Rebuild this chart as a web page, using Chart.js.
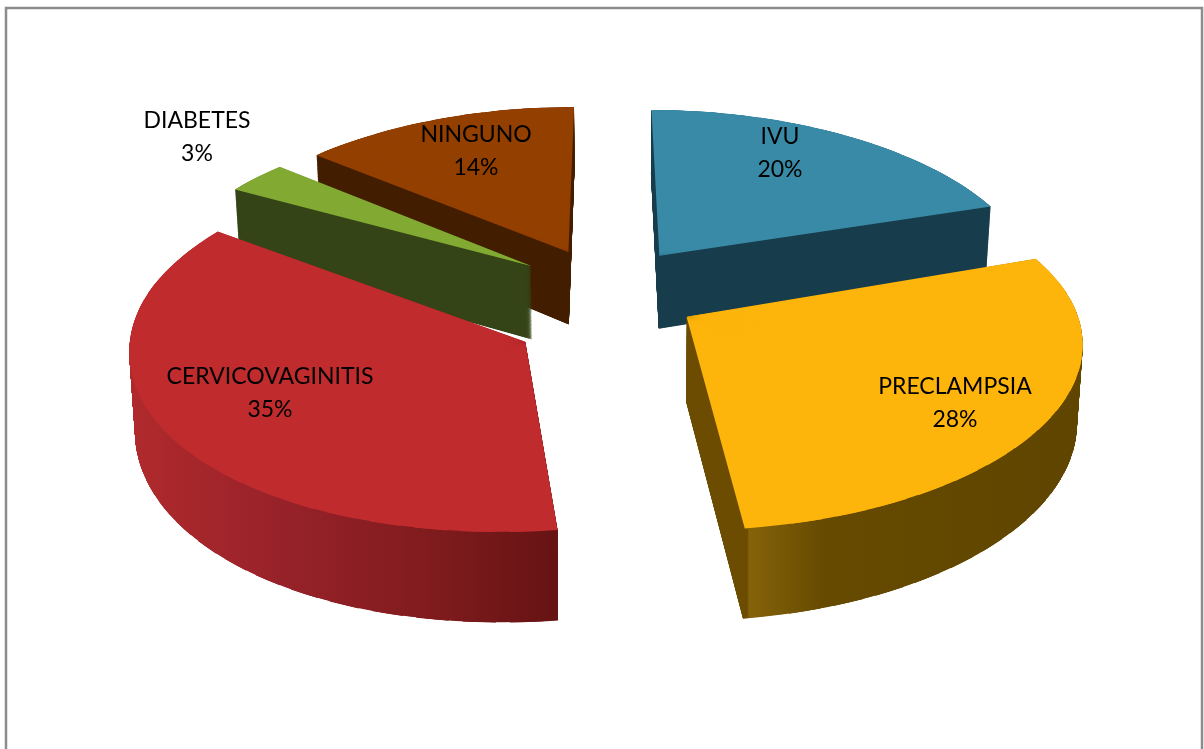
<!DOCTYPE html>
<html><head><meta charset="utf-8">
<style>html,body{margin:0;padding:0;background:#fff;overflow:hidden}canvas{display:block}</style>
<script src="https://cdn.jsdelivr.net/npm/chart.js@4"></script>
</head><body><canvas id="c" width="1204" height="749"></canvas>
<script>
const categories = ["IVU","PRECLAMPSIA","CERVICOVAGINITIS","DIABETES","NINGUNO"];
const values = [20,28,35,3,14];
const percentLabels = ["20%","28%","35%","3%","14%"];
const topColors = ["#388aa6","#fdb40b","#c02b2e","#82aa33","#933f00"];
const wallStops = [
  [[0,"#173c4b"],[1,"#173c4b"]],
  [[0,"#6b4c00"],[0.155,"#6b4c00"],[0.16,"#84630a"],[0.35,"#664a00"],[1,"#5f4500"]],
  [[0,"#b02a2c"],[0.35,"#98222a"],[0.75,"#7c1a1c"],[1,"#661314"]],
  [[0,"#344416"],[1,"#344416"]],
  [[0,"#421d00"],[1,"#421d00"]]
];
const drawOrder = [0,4,3,2,1];
const labelCentres = [[780,153],[955,403],[270,393],[197,137],[476,151]];
const apexDrop = [0,0.02,0.145,0,0];
const apexSink = [0,0.04,0,0,0];
const view = {cx:606.5, cy:289.6, A:382.8, B:177, persp:0.15, backNarrow:0.025, nearYaw:11, explode:0.243, depth:75, taper:0.012};

function project(u,v,t){
  const w = 1 - view.persp*v;
  const narrow = 1 + view.backNarrow*Math.min(0,v);
  const yaw = v>0 ? view.nearYaw*v*v : 0;
  return [view.cx + view.A*u/w*narrow*(1 - view.taper*t) - yaw, view.cy + (view.B*v + view.depth*t)/w];
}
function sectorMatrix(arc,a0,a1,mid,i,t){
  const R = arc.outerRadius;
  const ex = view.explode*Math.cos(mid), ey = view.explode*Math.sin(mid);
  const P = project(ex,ey+apexDrop[i]+apexSink[i]*t,t);
  const Q0 = project(ex+Math.cos(a0),ey+Math.sin(a0),t);
  const Q1 = project(ex+Math.cos(a1),ey+Math.sin(a1),t);
  const x0=R*Math.cos(a0), y0=R*Math.sin(a0), x1=R*Math.cos(a1), y1=R*Math.sin(a1);
  const det = x0*y1 - x1*y0;
  const d0=[Q0[0]-P[0],Q0[1]-P[1]], d1=[Q1[0]-P[0],Q1[1]-P[1]];
  const a=(d0[0]*y1-d1[0]*y0)/det, c=(d1[0]*x0-d0[0]*x1)/det;
  const b=(d0[1]*y1-d1[1]*y0)/det, d=(d1[1]*x0-d0[1]*x1)/det;
  return {a,b,c,d,e:P[0]-a*arc.x-c*arc.y,f:P[1]-b*arc.x-d*arc.y};
}
// Draw the library's arc as thin overlapping sub-sectors, each under the affine that fits the camera projection there.
function drawProjected(ctx,arc,i,t){
  const s0=arc.startAngle, s1=arc.endAngle, c0=arc.circumference, mid=(s0+s1)/2;
  const n=Math.max(1,Math.ceil((s1-s0)/(6*Math.PI/180))), da=(s1-s0)/n;
  for(let k=0;k<n;k++){
    const a0=s0+k*da-(k>0?da*0.7:0), a1=s0+(k+1)*da;
    arc.startAngle=a0; arc.endAngle=a1; arc.circumference=a1-a0;
    const M=sectorMatrix(arc,a0,a1,mid,i,t);
    ctx.save();
    ctx.transform(M.a,M.b,M.c,M.d,M.e,M.f);
    arc.draw(ctx);
    ctx.restore();
  }
  arc.startAngle=s0; arc.endAngle=s1; arc.circumference=c0;
}
const pie3d = {
  id:'pie3d',
  beforeDraw(chart){
    const ctx = chart.ctx;
    ctx.save();
    ctx.strokeStyle = '#8c8c8c'; ctx.lineWidth = 2.5;
    ctx.strokeRect(6,8,1196,800);
    ctx.restore();
  },
  beforeDatasetsDraw(chart){
    const ctx = chart.ctx, arcs = chart.getDatasetMeta(0).data;
    drawOrder.forEach(i=>{
      const arc = arcs[i];
      arc.options = Object.assign({},arc.options,{borderWidth:0,offset:0});
      const off = document.createElement('canvas');
      off.width = chart.width; off.height = chart.height;
      const o = off.getContext('2d');
      const n = 240;
      for(let s=n;s>=1;s--) drawProjected(o,arc,i,s/n);
      o.setTransform(1,0,0,1,0,0);
      o.globalCompositeOperation='source-atop';
      const m=(arc.startAngle+arc.endAngle)/2, xs=[];
      const ax=view.explode*Math.cos(m), ay=view.explode*Math.sin(m);
      xs.push(project(ax,ay+apexDrop[i],1)[0]);
      for(let k=0;k<=40;k++){
        const an=arc.startAngle+(arc.endAngle-arc.startAngle)*k/40;
        xs.push(project(ax+Math.cos(an),ay+Math.sin(an),0)[0]);
      }
      const g=o.createLinearGradient(Math.min(...xs),0,Math.max(...xs),0);
      wallStops[i].forEach(st=>g.addColorStop(st[0],st[1]));
      o.fillStyle=g; o.fillRect(0,0,off.width,off.height);
      ctx.drawImage(off,0,0);
      drawProjected(ctx,arc,i,0);
    });
    return false;
  },
  afterDraw(chart){
    const ctx = chart.ctx;
    ctx.save();
    ctx.font = '23px Lato'; ctx.fillStyle='#000'; ctx.textAlign='center'; ctx.textBaseline='middle';
    categories.forEach((name,i)=>{
      const [x,y]=labelCentres[i];
      ctx.fillText(name,x,y-16);
      ctx.fillText(percentLabels[i],x,y+17);
    });
    ctx.restore();
  }
};
new Chart(document.getElementById('c'),{
  type:'pie',
  data:{labels:categories,datasets:[{data:values,backgroundColor:topColors,borderWidth:0}]},
  options:{responsive:false,animation:false,
    plugins:{legend:{display:false},tooltip:{enabled:false}},events:[]},
  plugins:[pie3d]
});
</script></body></html>
